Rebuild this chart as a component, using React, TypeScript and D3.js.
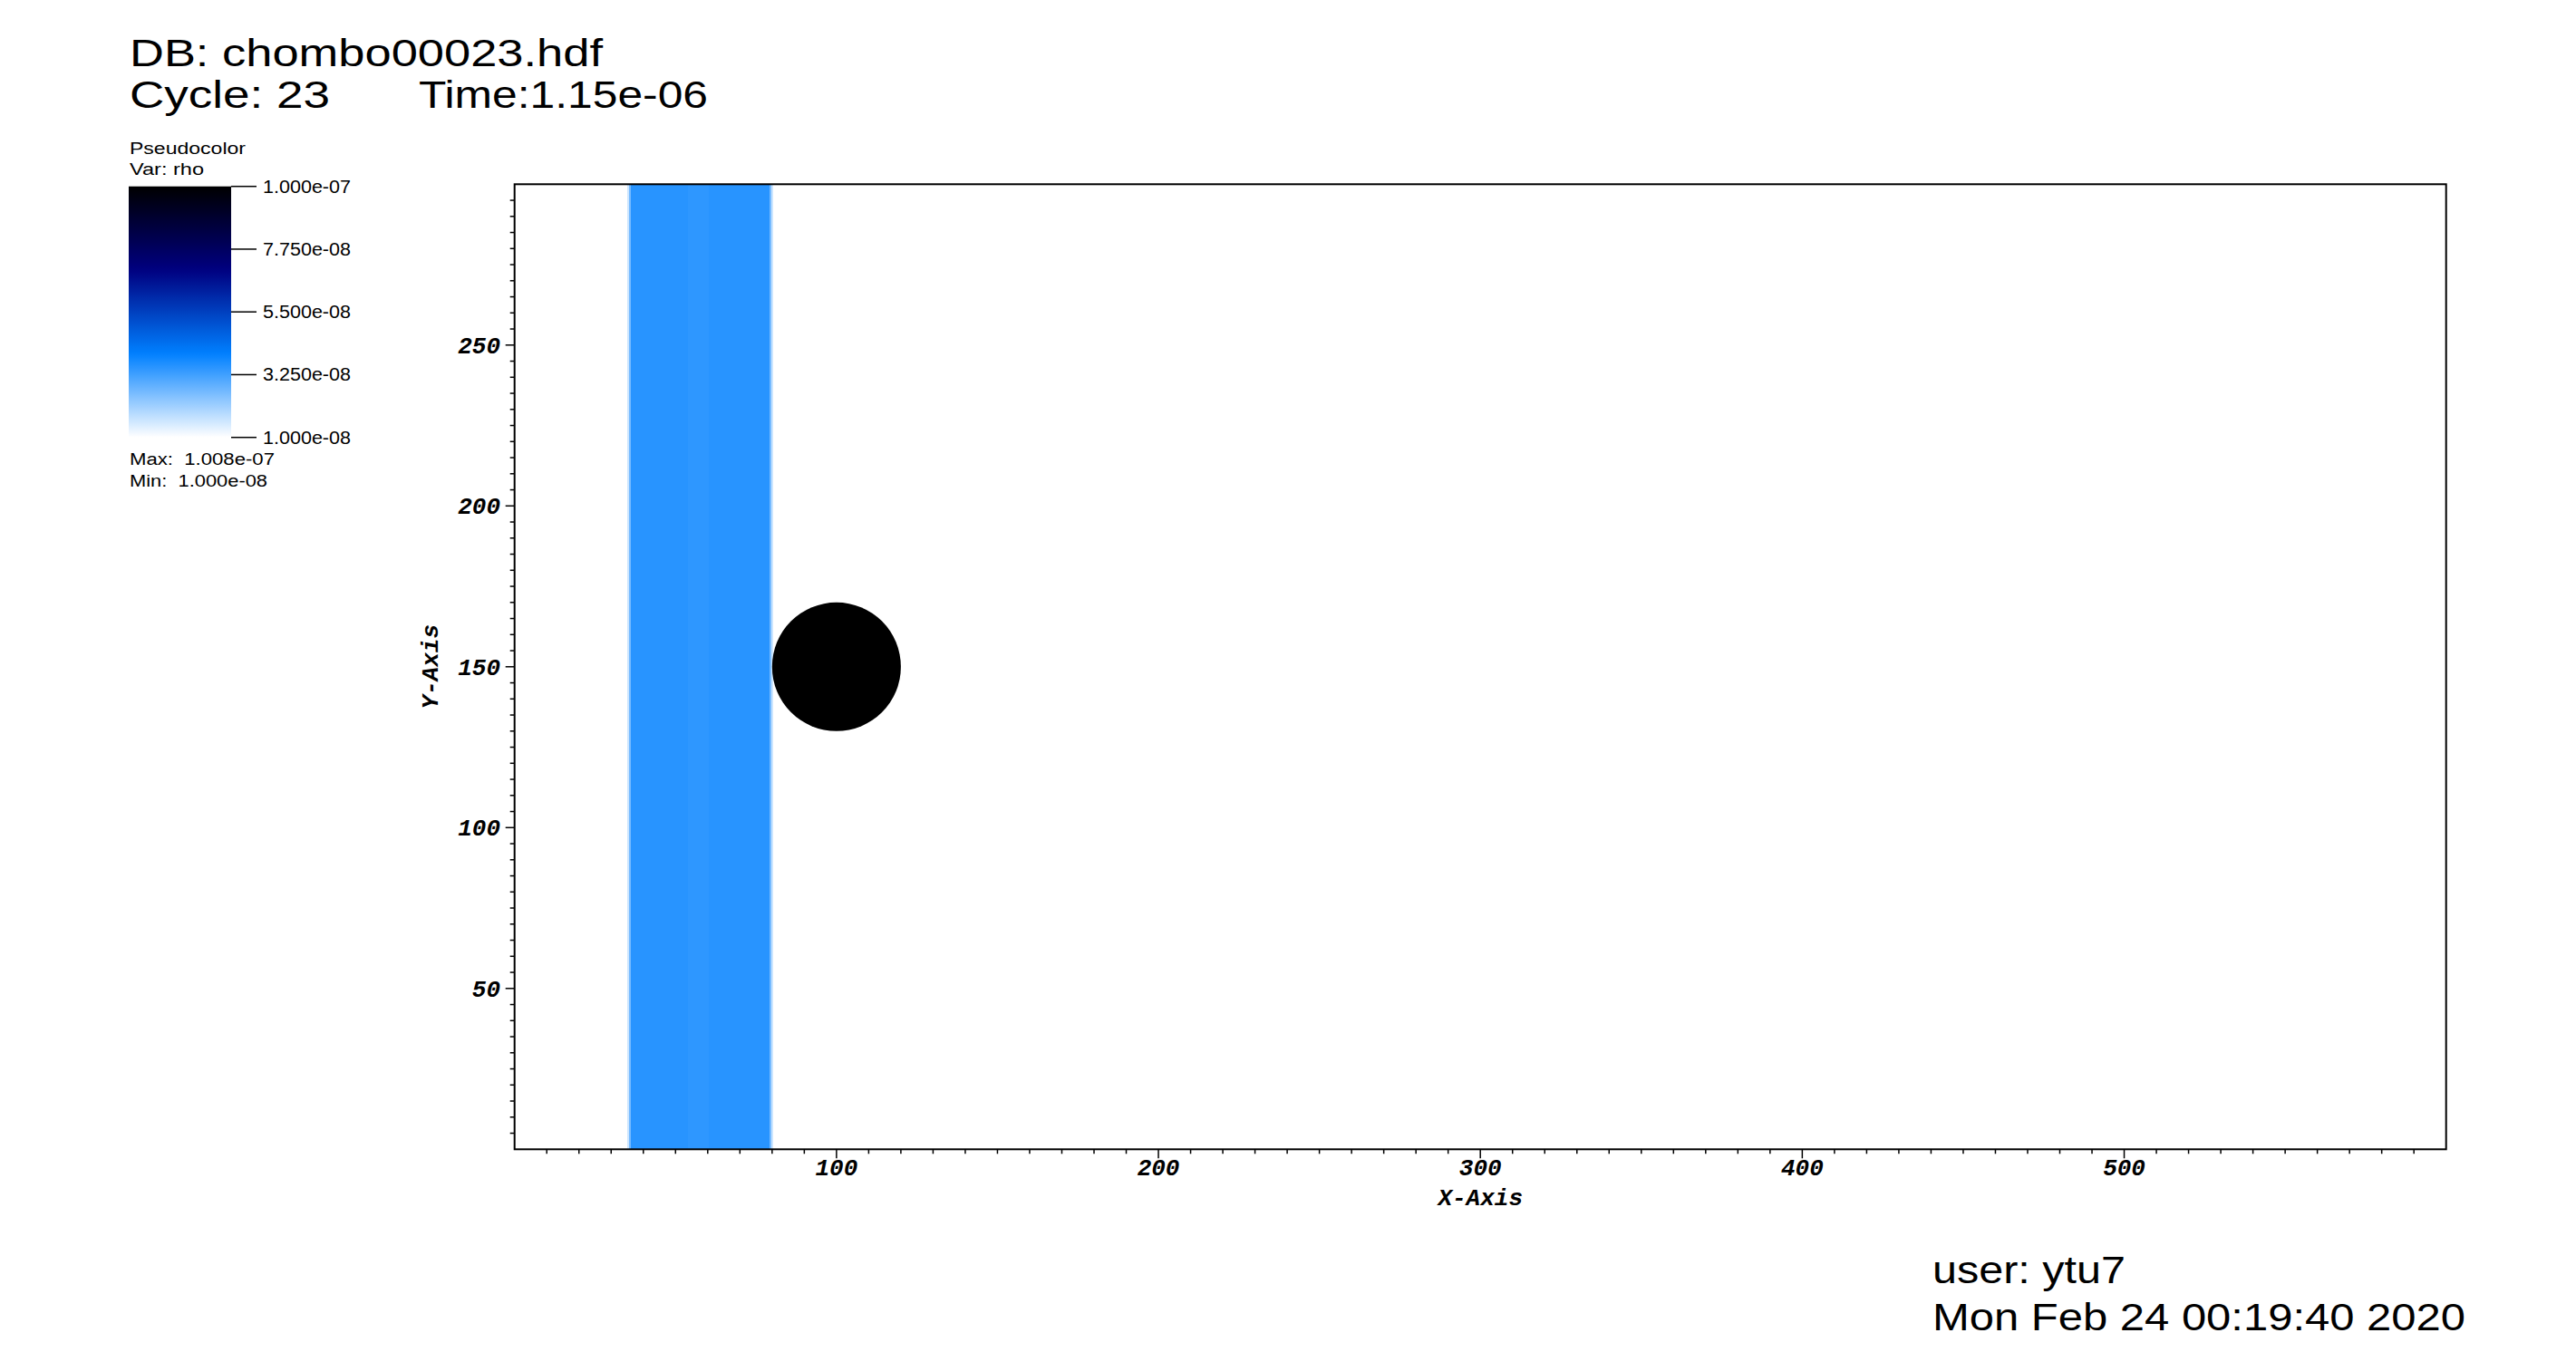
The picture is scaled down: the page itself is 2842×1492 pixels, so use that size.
import React from "react";
import * as d3 from "d3";

// ---------- data ----------
const xDomain = [0, 600];
const yDomain = [0, 300];
const xMajorTicks = [100, 200, 300, 400, 500];
const yMajorTicks = [50, 100, 150, 200, 250];
const xMinorStep = 10;
const yMinorStep = 5;

// density field: vertical columns (x0, x1, rho) spanning the full height
const bandX0 = [35.0, 35.5, 36.1, 54.0, 60.3, 79.3, 79.8];
const bandX1 = [35.5, 36.1, 54.0, 60.3, 79.3, 79.8, 80.3];
const bandRho = [1.6e-8, 2.6e-8, 3.53e-8, 3.46e-8, 3.53e-8, 2.6e-8, 1.6e-8];

// dense cylinder
const circleCx = 100;
const circleCy = 150;
const circleR = 20;
const circleRho = 1.0e-7;

// colour table
const rhoMin = 1.0e-8;
const rhoMax = 1.0e-7;
const colorStopT = [0, 1 / 3, 2 / 3, 1];
const colorStopC = ["#ffffff", "#0080ff", "#000080", "#000000"];
const legendTickValues = [1.0e-7, 7.75e-8, 5.5e-8, 3.25e-8, 1.0e-8];
const legendTickLabels = ["1.000e-07", "7.750e-08", "5.500e-08", "3.250e-08", "1.000e-08"];

const titleLine1 = "DB: chombo00023.hdf";
const titleCycle = "Cycle: 23";
const titleTime = "Time:1.15e-06";
const userLine = "user: ytu7";
const dateLine = "Mon Feb 24 00:19:40 2020";

export default function App() {
  const W = 2842;
  const H = 1492;
  const pL = 567.7, pR = 2698.7, pT = 203.3, pB = 1268.3;

  const x = d3.scaleLinear().domain(xDomain).range([pL, pR]);
  const y = d3.scaleLinear().domain(yDomain).range([pB, pT]);

  const color = d3
    .scaleLinear<string>()
    .domain(colorStopT.map((t) => rhoMin + t * (rhoMax - rhoMin)))
    .range(colorStopC)
    .interpolate(d3.interpolateRgb)
    .clamp(true);

  const xMinor = d3.range(xDomain[0] + xMinorStep, xDomain[1], xMinorStep).filter(
    (v) => !xMajorTicks.includes(v)
  );
  const yMinor = d3.range(yDomain[0] + yMinorStep, yDomain[1], yMinorStep).filter(
    (v) => !yMajorTicks.includes(v)
  );

  // legend
  const lgX = 142, lgW = 113, lgTop = 205.7, lgBot = 482.7;
  const lgScale = d3.scaleLinear().domain([rhoMin, rhoMax]).range([lgBot, lgTop]);
  const gradStops = d3.range(0, 1.0001, 0.02);

  const sans = "'Liberation Sans', Arial, sans-serif";
  const mono = "'Liberation Mono', 'Courier New', monospace";

  return (
    <svg
      width={W}
      height={H}
      viewBox={`0 0 ${W} ${H}`}
      style={{ position: "absolute", left: 0, top: 0, background: "#fff" }}
    >
      <defs>
        <linearGradient id="cbar" x1="0" y1="1" x2="0" y2="0">
          {gradStops.map((t, i) => (
            <stop key={i} offset={t} stopColor={color(rhoMin + t * (rhoMax - rhoMin))} />
          ))}
        </linearGradient>
        <clipPath id="plotclip">
          <rect x={pL} y={pT - 1} width={pR - pL} height={pB - pT + 1} />
        </clipPath>
      </defs>

      <rect x={0} y={0} width={W} height={H} fill="#fff" />

      {/* titles */}
      <g fontFamily={sans} fill="#000" fontSize={43}>
        <text x={143} y={73} textLength={522} lengthAdjust="spacingAndGlyphs">{titleLine1}</text>
        <text x={143} y={119} textLength={221} lengthAdjust="spacingAndGlyphs">{titleCycle}</text>
        <text x={462} y={119} textLength={319} lengthAdjust="spacingAndGlyphs">{titleTime}</text>
        <text x={2132} y={1416} textLength={213} lengthAdjust="spacingAndGlyphs">{userLine}</text>
        <text x={2132} y={1468} textLength={588} lengthAdjust="spacingAndGlyphs">{dateLine}</text>
      </g>

      {/* legend */}
      <g fontFamily={sans} fill="#000" fontSize={18}>
        <text x={143} y={170} textLength={128} lengthAdjust="spacingAndGlyphs">Pseudocolor</text>
        <text x={143} y={193} textLength={82} lengthAdjust="spacingAndGlyphs">Var: rho</text>
        <rect x={lgX} y={lgTop} width={lgW} height={lgBot - lgTop} fill="url(#cbar)" />
        {legendTickValues.map((v, i) => (
          <g key={i}>
            <line x1={lgX + lgW} x2={lgX + lgW + 28} y1={lgScale(v)} y2={lgScale(v)} stroke="#000" strokeWidth={1.5} />
            <text
              x={290}
              y={lgScale(v)}
              dy="0.36em"
              fontSize={19.5}
              textLength={97}
              lengthAdjust="spacingAndGlyphs"
            >
              {legendTickLabels[i]}
            </text>
          </g>
        ))}
        <text x={143} y={513} textLength={160} lengthAdjust="spacingAndGlyphs" style={{ whiteSpace: "pre" }}>
          {"Max:  1.008e-07"}
        </text>
        <text x={143} y={537} textLength={152} lengthAdjust="spacingAndGlyphs" style={{ whiteSpace: "pre" }}>
          {"Min:  1.000e-08"}
        </text>
      </g>

      {/* field */}
      <g clipPath="url(#plotclip)" shapeRendering="crispEdges">
        {bandRho.map((r, i) => (
          <rect
            key={i}
            x={x(bandX0[i])}
            y={y(yDomain[1])}
            width={x(bandX1[i]) - x(bandX0[i])}
            height={y(yDomain[0]) - y(yDomain[1])}
            fill={color(r)}
          />
        ))}
      </g>
      <circle cx={x(circleCx)} cy={y(circleCy)} r={x(circleR) - x(0)} fill={color(circleRho)} />

      {/* axes box */}
      <rect x={pL} y={pT} width={pR - pL} height={pB - pT} fill="none" stroke="#000" strokeWidth={2} />

      {/* ticks */}
      <g stroke="#000" strokeWidth={1.5}>
        {xMinor.map((v) => (
          <line key={"xm" + v} x1={x(v)} x2={x(v)} y1={pB} y2={pB + 5} />
        ))}
        {xMajorTicks.map((v) => (
          <line key={"xM" + v} x1={x(v)} x2={x(v)} y1={pB} y2={pB + 10} />
        ))}
        {yMinor.map((v) => (
          <line key={"ym" + v} x1={pL - 5} x2={pL} y1={y(v)} y2={y(v)} />
        ))}
        {yMajorTicks.map((v) => (
          <line key={"yM" + v} x1={pL - 10} x2={pL} y1={y(v)} y2={y(v)} />
        ))}
      </g>

      <g fontFamily={mono} fontWeight="bold" fontStyle="italic" fontSize={26} fill="#000">
        {xMajorTicks.map((v) => (
          <text key={"xl" + v} x={x(v)} y={1297} textAnchor="middle">
            {String(v)}
          </text>
        ))}
        {yMajorTicks.map((v) => (
          <text key={"yl" + v} x={552} y={y(v)} dy="0.35em" textAnchor="end">
            {String(v)}
          </text>
        ))}
        <text x={(pL + pR) / 2} y={1330} textAnchor="middle">X-Axis</text>
        <text transform={`translate(483, ${(pT + pB) / 2}) rotate(-90)`} textAnchor="middle">
          Y-Axis
        </text>
      </g>
    </svg>
  );
}
